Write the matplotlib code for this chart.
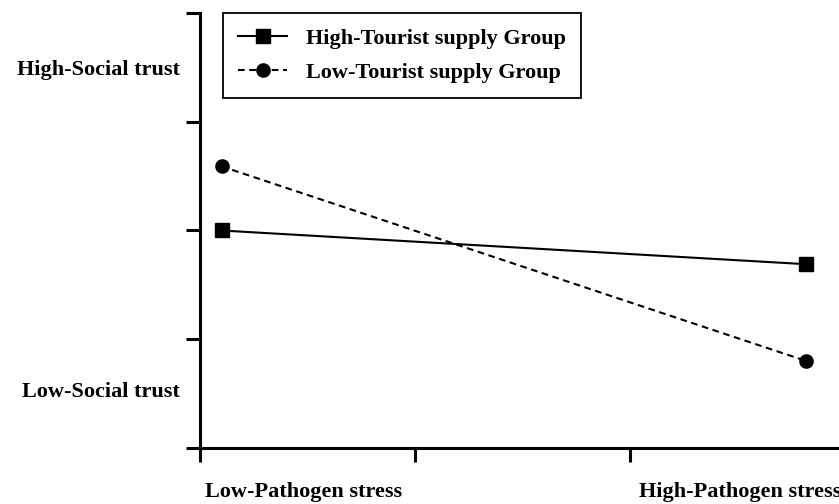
import matplotlib
matplotlib.use("Agg")
import matplotlib.pyplot as plt

# interaction plot data (simple slopes)
x_pos = [0.1, 2.82]
high_tourist = [2.0, 1.69]
low_tourist = [2.59, 0.80]
series_labels = ["High-Tourist supply Group", "Low-Tourist supply Group"]
y_labels = ["High-Social trust", "Low-Social trust"]
x_labels = ["Low-Pathogen stress", "High-Pathogen stress"]

plt.rcParams['font.family'] = ['Liberation Serif', 'DejaVu Serif']
plt.rcParams['font.weight'] = 'bold'
FS = 16

W, H = 839, 504
fig = plt.figure(figsize=(W / 100, H / 100), dpi=100)
ax = fig.add_axes([200 / W, 56 / H, 645 / W, 435 / H])

ax.plot(x_pos, high_tourist, color='black', lw=1.5, marker='s', ms=9.5,
        label=series_labels[0])
ax.plot(x_pos, low_tourist, color='black', lw=1.5, ls=(0, (3.2, 2.2)), marker='o',
        ms=9.5, label=series_labels[1])

ax.set_xlim(0, 3)
ax.set_ylim(0, 4)
ax.set_xticks([0, 1, 2, 3])
ax.set_yticks([0, 1, 2, 3, 4])
ax.set_xticklabels([])
ax.set_yticklabels([])
ax.tick_params(direction='out', length=10, width=2.2)
for s in ['top', 'right']:
    ax.spines[s].set_visible(False)
for s in ['left', 'bottom']:
    ax.spines[s].set_linewidth(2.2)

leg = ax.legend(loc='upper left', bbox_to_anchor=(23 / 645, 1.0), borderaxespad=0,
                fancybox=False, edgecolor='black', framealpha=1,
                prop={'family': 'Liberation Serif', 'weight': 'bold', 'size': FS},
                handlelength=2.2, handletextpad=0.85, labelspacing=0.6,
                borderpad=0.68)
leg.get_frame().set_linewidth(1.3)

fig.text(180 / W, 1 - 70 / H, y_labels[0], ha='right', va='center', fontsize=FS,
         fontweight='bold')
fig.text(180 / W, 1 - 392 / H, y_labels[1], ha='right', va='center', fontsize=FS,
         fontweight='bold')
# the right-hand label runs past the edge, as in the source figure
fig.text(205 / W, 1 - 492 / H, x_labels[0], ha='left', va='center', fontsize=FS,
         fontweight='bold')
fig.text(639 / W, 1 - 492 / H, x_labels[1], ha='left', va='center', fontsize=FS,
         fontweight='bold')

fig.savefig("out.png", dpi=100)
